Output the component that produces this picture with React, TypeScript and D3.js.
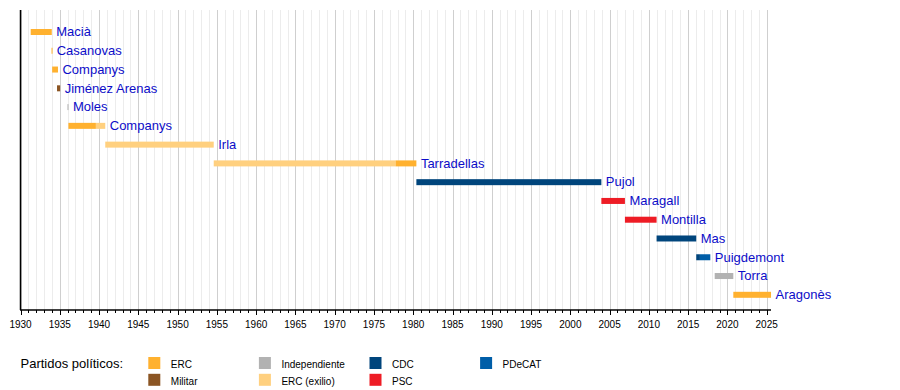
import React from 'react';
import * as d3 from 'd3';

// Presidents of the Generalitat, one row each (top to bottom)
const presidents = [
  'Macià', 'Casanovas', 'Companys', 'Jiménez Arenas', 'Moles', 'Companys', 'Irla',
  'Tarradellas', 'Pujol', 'Maragall', 'Montilla', 'Mas', 'Puigdemont', 'Torra', 'Aragonès',
];

const parties = ['ERC', 'Militar', 'Independiente', 'ERC (exilio)', 'CDC', 'PSC', 'PDeCAT'];
const partyColors = ['#ffb12f', '#8b5523', '#b2b2b2', '#ffd07f', '#00457c', '#ee1c25', '#005ea8'];

// [row, start year, end year, party]
const terms: [number, number, number, string][] = [
  [0, 1931.3, 1933.98, 'ERC'],
  [1, 1933.95, 1934.03, 'ERC'],
  [2, 1934.03, 1934.77, 'ERC'],
  [3, 1934.65, 1935.05, 'Militar'],
  [4, 1935.98, 1936.1, 'Independiente'],
  [5, 1936.1, 1939.6, 'ERC'],
  [5, 1939.6, 1940.79, 'ERC (exilio)'],
  [6, 1940.79, 1954.6, 'ERC (exilio)'],
  [7, 1954.6, 1977.75, 'ERC (exilio)'],
  [7, 1977.75, 1980.4, 'ERC'],
  [8, 1980.4, 2003.95, 'CDC'],
  [9, 2003.95, 2006.95, 'PSC'],
  [10, 2006.95, 2010.98, 'PSC'],
  [11, 2010.98, 2016.03, 'CDC'],
  [12, 2016.03, 2016.5, 'CDC'],
  [12, 2016.5, 2017.82, 'PDeCAT'],
  [13, 2018.38, 2020.75, 'Independiente'],
  [14, 2020.75, 2025.55, 'ERC'],
];

const firstYear = 1930;
const lastYear = 2025;
const axisEnd = 2025.55;

// legend layout: [column, row] for each party
const legendSlots: [number, number][] = [[0, 0], [0, 1], [1, 0], [1, 1], [2, 0], [2, 1], [3, 0]];

export default function App() {
  const width = 900;
  const height = 390;
  const top = 10;
  const bottom = 310;

  const x = d3.scaleLinear().domain([firstYear, lastYear]).range([20.5, 766.7]);
  const y = d3.scalePoint<number>().domain(d3.range(presidents.length)).range([32, 294.8]);
  const color = d3.scaleOrdinal<string, string>().domain(parties).range(partyColors);

  const years = d3.range(firstYear, lastYear + 1);
  const font = '"Liberation Sans", Arial, sans-serif';

  const labelEnd = presidents.map((_, i) => d3.max(terms.filter((t) => t[0] === i), (t) => t[2]) as number);

  return (
    <div style={{ position: 'absolute', left: 0, top: 0 }}>
      <svg width={width} height={height} style={{ display: 'block', background: '#fff' }}>
        {/* grid */}
        {years.map((yr) => (
          <line
            key={'g' + yr}
            x1={Math.round(x(yr)) + 0.5}
            x2={Math.round(x(yr)) + 0.5}
            y1={top}
            y2={bottom}
            stroke={yr % 5 === 0 ? '#cfcfcf' : '#ececec'}
            strokeWidth={1}
          />
        ))}

        {/* bars */}
        {terms.map((t, i) => (
          <rect
            key={'b' + i}
            x={x(t[1])}
            y={(y(t[0]) as number) - 3}
            width={Math.max(1, x(t[2]) - x(t[1]))}
            height={6}
            fill={color(t[3])}
          />
        ))}

        {/* labels */}
        {presidents.map((p, i) => (
          <text
            key={'l' + i}
            x={x(labelEnd[i]) + 4.5}
            y={(y(i) as number) + 4.3}
            fontFamily={font}
            fontSize={13}
            fill="#0c0cc8"
          >
            {p}
          </text>
        ))}

        {/* axes */}
        <line x1={20.5} x2={20.5} y1={top} y2={bottom} stroke="#000" strokeWidth={1.5} />
        <line x1={20} x2={x(axisEnd)} y1={bottom} y2={bottom} stroke="#000" strokeWidth={1.5} />
        {years.map((yr) => (
          <line
            key={'t' + yr}
            x1={Math.round(x(yr)) + 0.5}
            x2={Math.round(x(yr)) + 0.5}
            y1={bottom}
            y2={bottom + (yr % 5 === 0 ? 5 : 3)}
            stroke="#000"
            strokeWidth={1}
          />
        ))}
        {years.filter((yr) => yr % 5 === 0).map((yr) => (
          <text key={'tl' + yr} x={x(yr)} y={328.3} textAnchor="middle" fontFamily={font} fontSize={10} fill="#000">
            {yr}
          </text>
        ))}

        {/* legend */}
        <text x={20.5} y={368} fontFamily={font} fontSize={13} fill="#000">
          Partidos políticos:
        </text>
        {parties.map((p, i) => {
          const [c, r] = legendSlots[i];
          const lx = 148.3 + c * 110.6;
          const ly = 357 + r * 16.8;
          return (
            <g key={'lg' + p}>
              <rect x={lx} y={ly} width={12} height={12} fill={color(p)} />
              <text x={lx + 22.5} y={ly + 11} fontFamily={font} fontSize={10} fill="#000">
                {p}
              </text>
            </g>
          );
        })}
      </svg>
    </div>
  );
}
